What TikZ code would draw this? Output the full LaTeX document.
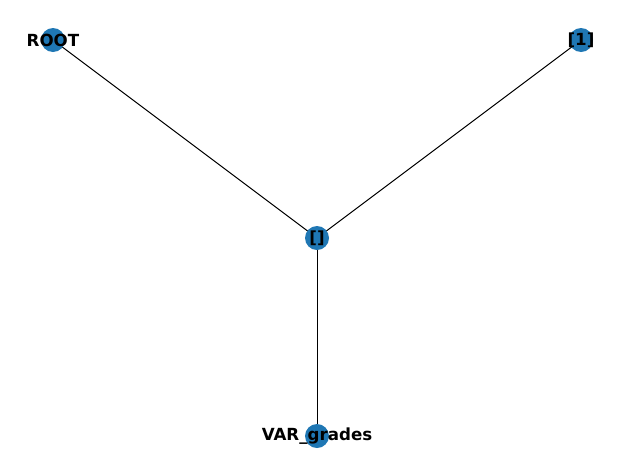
\documentclass[tikz,border=0pt]{standalone}
\usepackage{fontspec}
\setmainfont{DejaVu Sans}
\usetikzlibrary{backgrounds}
\begin{document}
\begin{tikzpicture}[x=1pt,y=-1pt,
  vert/.style={circle,fill={rgb,255:red,31;green,119;blue,180},minimum size=24pt,inner sep=0pt,
    font=\fontsize{16.67}{20}\selectfont\bfseries,text=black},
  edge/.style={draw=black,line width=1pt}]
\useasboundingbox (0,0) rectangle (634,472);
\node[vert] (root) at (53,40) {\makebox[0pt]{ROOT}};
\node[vert] (one) at (581,40) {\makebox[0pt]{[1]}};
\node[vert] (mid) at (317,238) {\makebox[0pt]{[]}};
\node[vert] (var) at (317,436) {\makebox[0pt]{VAR\_grades}};
\begin{scope}[on background layer]
\draw[edge] (root.center) -- (mid.center);
\draw[edge] (one.center) -- (mid.center);
\draw[edge] (mid.center) -- (var.center);
\end{scope}
\end{tikzpicture}
\end{document}
